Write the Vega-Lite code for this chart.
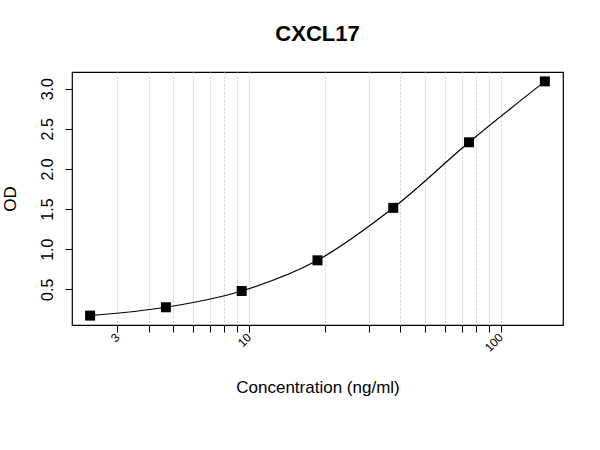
{
  "$schema": "https://vega.github.io/schema/vega-lite/v6.json",
  "autosize": {"type": "none"},
  "padding": {"left": 72, "top": 72, "right": 37, "bottom": 125},
  "width": 491,
  "height": 253,
  "background": "white",
  "config": {
    "font": "Liberation Sans",
    "view": {"stroke": "black", "strokeWidth": 1.2},
    "axis": {"domain": false, "grid": false, "tickColor": "black", "tickSize": 7, "tickWidth": 1, "labelColor": "black", "titleColor": "black", "titleFontWeight": "normal", "labelFont": "Liberation Sans", "titleFont": "Liberation Sans"}
  },
  "title": {
    "text": "CXCL17",
    "fontSize": 22,
    "fontWeight": "bold",
    "color": "black",
    "anchor": "middle",
    "frame": "group",
    "offset": 26
  },
  "data": {
    "values": [
      {"conc": 2.34375, "od": 0.172},
      {"conc": 4.6875, "od": 0.276},
      {"conc": 9.375, "od": 0.479},
      {"conc": 18.75, "od": 0.861},
      {"conc": 37.5, "od": 1.515},
      {"conc": 75, "od": 2.332},
      {"conc": 150, "od": 3.091}
    ]
  },
  "encoding": {
    "x": {
      "field": "conc",
      "type": "quantitative",
      "scale": {"type": "log", "domain": [1.986, 177.1], "nice": false, "zero": false},
      "axis": {
        "title": "Concentration (ng/ml)",
        "titleFontSize": 17,
        "titleY": 67,
        "titleBaseline": "alphabetic",
        "values": [3, 4, 5, 6, 7, 8, 9, 10, 20, 30, 40, 50, 60, 70, 80, 90, 100],
        "labelExpr": "datum.value == 3 || datum.value == 10 || datum.value == 100 ? datum.label : ''",
        "format": "d",
        "labelAngle": -45,
        "labelAlign": "right",
        "labelBaseline": "middle",
        "labelFontSize": 12,
        "labelPadding": 3,
        "labelOverlap": false,
        "grid": true,
        "gridColor": "#cccccc",
        "gridDash": [2, 2],
        "gridWidth": 1
      }
    },
    "y": {
      "field": "od",
      "type": "quantitative",
      "scale": {"domain": [0.055, 3.208], "nice": false, "zero": false},
      "axis": {
        "title": "OD",
        "titleFontSize": 17,
        "titleX": -57,
        "titleBaseline": "alphabetic",
        "values": [0.5, 1, 1.5, 2, 2.5, 3],
        "format": ".1f",
        "labelAngle": -90,
        "labelAlign": "center",
        "labelBaseline": "alphabetic",
        "labelFontSize": 16,
        "labelPadding": 13
      }
    }
  },
  "layer": [
    {
      "mark": {"type": "line", "interpolate": "monotone", "color": "black", "strokeWidth": 1.2}
    },
    {
      "mark": {"type": "point", "shape": "square", "filled": true, "color": "black", "opacity": 1, "size": 100}
    }
  ]
}
